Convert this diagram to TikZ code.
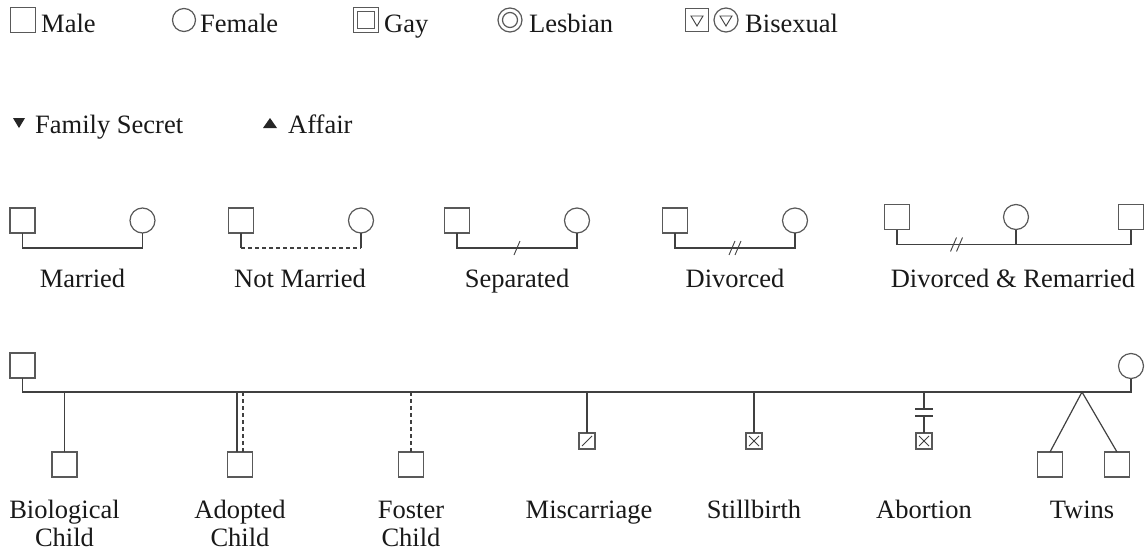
\documentclass[tikz,border=0pt]{standalone}
\usepackage{fontspec}
\setmainfont{Liberation Serif}
\usetikzlibrary{calc}
\tikzset{
  sym/.style={draw=black!65, line width=1.2pt, inner sep=0pt, outer sep=0pt, fill=white},
  male/.style={sym, rectangle, minimum size=25pt},
  female/.style={sym, circle, minimum size=25pt},
  tiny/.style={sym, rectangle, minimum size=16pt},
  link/.style={draw=black!75, line width=1.2pt},
  thinlink/.style={draw=black!75, line width=0.9pt},
  notlink/.style={link, dash pattern=on 4pt off 3pt},
  lbl/.style={font=\fontsize{26.5}{28}\selectfont, text=black!90, inner sep=0pt, anchor=base},
  lblw/.style={lbl, anchor=base west}
}
\newcommand{\twoline}[2]{\begin{tabular}[t]{@{}c@{}}#1\\#2\end{tabular}}
\begin{document}
\begin{tikzpicture}[x=1pt,y=-1pt]
\useasboundingbox[fill=white] (0,0) rectangle (1146,554);

% ---- legend row 1
\node[male] (lmale) at (23,20) {};
\node[lblw] (tmale) at (41,32) {Male};
\node[female, minimum size=23pt] (lfem) at (184,20) {};
\node[lblw] (tfem) at (200,32) {Female};
\node[male] (lgay) at (366,20) {};
\node[male, minimum size=17pt] (lgayin) at (lgay) {};
\node[lblw] (tgay) at (384,32) {Gay};
\node[female, minimum size=24pt] (lles) at (510,20) {};
\node[female, minimum size=15pt] (llesin) at (lles) {};
\node[lblw] (tles) at (529,32) {Lesbian};
\node[male, minimum size=23pt] (lbim) at (697,20) {};
\draw[thinlink] ($(lbim)+(-6,-4)$) -- ($(lbim)+(6,-4)$) -- ($(lbim)+(0,6)$) -- cycle;
\node[female, minimum size=24pt] (lbif) at (726,20) {};
\draw[thinlink] ($(lbif)+(-6,-4)$) -- ($(lbif)+(6,-4)$) -- ($(lbif)+(0,6)$) -- cycle;
\node[lblw] (tbi) at (745,32) {Bisexual};

% ---- legend row 2
\fill[black!85] (13,118) -- (25,118) -- (19,128) -- cycle;
\node[lblw] (tsecret) at (35,133) {Family Secret};
\fill[black!85] (263,128) -- (277,128) -- (270,118) -- cycle;
\node[lblw] (taffair) at (288,133) {Affair};

% ---- relationships
% Married
\coordinate (ra) at (0,248);
\node[male] (m1) at (22.5,220.5) {};
\node[female] (f1) at (142.5,220.5) {};
\draw[link] (m1.south) -- (m1.south |- ra) -- (f1.south |- ra) -- (f1.south);
\node[lbl] (l1) at (82.5,287) {Married};
% Not married
\node[male] (m2) at (241,220.5) {};
\node[female] (f2) at (361,220.5) {};
\draw[link] (m2.south) -- (m2.south |- ra);
\draw[link] (f2.south) -- (f2.south |- ra);
\draw[notlink] (m2.south |- ra) -- (f2.south |- ra);
\node[lbl] (l2) at (300,287) {Not Married};
% Separated
\node[male] (m3) at (457,220.5) {};
\node[female] (f3) at (577,220.5) {};
\draw[link] (m3.south) -- (m3.south |- ra) -- (f3.south |- ra) -- (f3.south);
\coordinate (s3) at ($(m3.south |- ra)!0.5!(f3.south |- ra)$);
\draw[thinlink] ($(s3)+(-3,7)$) -- ($(s3)+(3,-7)$);
\node[lbl] (l3) at (517,287) {Separated};
% Divorced
\node[male] (m4) at (675,220.5) {};
\node[female] (f4) at (795,220.5) {};
\draw[link] (m4.south) -- (m4.south |- ra) -- (f4.south |- ra) -- (f4.south);
\coordinate (s4) at ($(m4.south |- ra)!0.5!(f4.south |- ra)$);
\draw[thinlink] ($(s4)+(-6,7)$) -- ($(s4)+(0,-7)$);
\draw[thinlink] ($(s4)+(0,7)$) -- ($(s4)+(6,-7)$);
\node[lbl] (l4) at (735,287) {Divorced};
% Divorced & remarried
\coordinate (rr) at (0,244.5);
\node[male] (m5) at (897,217) {};
\node[female] (f5) at (1016,217) {};
\node[male] (m6) at (1131,217) {};
\draw[link] (m5.south) -- (m5.south |- rr) -- (m6.south |- rr) -- (m6.south);
\draw[link] (f5.south) -- (f5.south |- rr);
\coordinate (s5) at ($(m5.south |- rr)!0.5!(f5.south |- rr)$);
\draw[thinlink] ($(s5)+(-6,7)$) -- ($(s5)+(0,-7)$);
\draw[thinlink] ($(s5)+(0,7)$) -- ($(s5)+(6,-7)$);
\node[lbl] (l5) at (1013,287) {Divorced \& Remarried};

% ---- family line
\coordinate (rb) at (0,392);
\node[male] (dad) at (22.5,365.5) {};
\node[female] (mom) at (1131,366) {};
\draw[link] (dad.south) -- (dad.south |- rb) -- (mom.south |- rb) -- (mom.south);

% biological
\node[male] (bio) at (64.5,464.5) {};
\draw[link] (bio.north |- rb) -- (bio.north);
\node[lbl] (lbio) at (64.5,518) {\twoline{Biological}{Child}};
% adopted
\node[male] (adp) at (240,464.5) {};
\draw[link] ($(adp.north |- rb)+(-3,0)$) -- ($(adp.north)+(-3,0)$);
\draw[notlink] ($(adp.north |- rb)+(3,0)$) -- ($(adp.north)+(3,0)$);
\node[lbl] (ladp) at (240,518) {\twoline{Adopted}{Child}};
% foster
\node[male] (fos) at (411,464.5) {};
\draw[notlink] (fos.north |- rb) -- (fos.north);
\node[lbl] (lfos) at (411,518) {\twoline{Foster}{Child}};
% miscarriage
\node[tiny] (mis) at (587,441) {};
\draw[link] (mis.north |- rb) -- (mis.north);
\draw[thinlink] ($(mis.south west)+(3,-3)$) -- ($(mis.north east)+(-3,3)$);
\node[lbl] (lmis) at (589,518) {Miscarriage};
% stillbirth
\node[tiny] (sti) at (754,441) {};
\draw[link] (sti.north |- rb) -- (sti.north);
\draw[thinlink] ($(sti.south west)+(3,-3)$) -- ($(sti.north east)+(-3,3)$);
\draw[thinlink] ($(sti.north west)+(3,3)$) -- ($(sti.south east)+(-3,-3)$);
\node[lbl] (lsti) at (754,518) {Stillbirth};
% abortion
\node[tiny] (abo) at (924,441) {};
\coordinate (ab1) at (924,409);
\coordinate (ab2) at (924,416);
\draw[link] (abo.north |- rb) -- (ab1);
\draw[link] ($(ab1)+(-9,0)$) -- ($(ab1)+(9,0)$);
\draw[link] ($(ab2)+(-9,0)$) -- ($(ab2)+(9,0)$);
\draw[link] (ab2) -- (abo.north);
\draw[thinlink] ($(abo.south west)+(3,-3)$) -- ($(abo.north east)+(-3,3)$);
\draw[thinlink] ($(abo.north west)+(3,3)$) -- ($(abo.south east)+(-3,-3)$);
\node[lbl] (labo) at (924,518) {Abortion};
% twins
\coordinate (apex) at (1082,392);
\node[male] (tw1) at (1050,464.5) {};
\node[male] (tw2) at (1117,464.5) {};
\draw[link] (tw1.north) -- (apex) -- (tw2.north);
\node[lbl] (ltw) at (1082,518) {Twins};
\end{tikzpicture}
\end{document}
